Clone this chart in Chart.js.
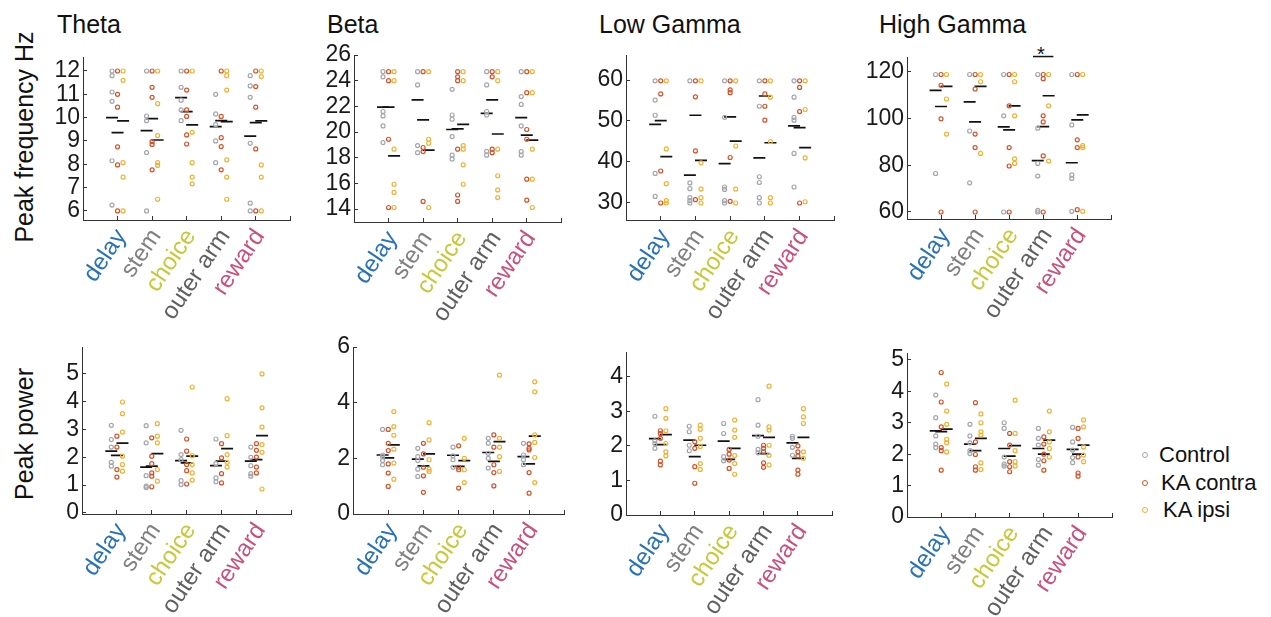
<!DOCTYPE html>
<html>
<head>
<meta charset="utf-8">
<script src="https://cdn.jsdelivr.net/npm/chart.js@4.4.1/dist/chart.umd.min.js"></script>
<style>
  body { margin: 0; background: #fff; width: 1271px; height: 617px; position: relative; overflow: hidden;
         font-family: "Liberation Sans", Arial, sans-serif; }
  canvas { position: absolute; }
  .txt { position: absolute; white-space: nowrap; color: #111; line-height: 1; }
  .title { font-size: 25px; }
  .ytitle { font-size: 25px; transform: translate(-50%, -50%) rotate(-90deg); }
  .leg { font-size: 22px; }
  .dot { position: absolute; width: 4px; height: 4px; border-radius: 50%; border: 1.3px solid; transform: translate(-50%, -50%); }
</style>
</head>
<body>

<div class="txt title" style="left:57px;top:12px">Theta</div>
<div class="txt title" style="left:327px;top:12px">Beta</div>
<div class="txt title" style="left:599px;top:12px">Low Gamma</div>
<div class="txt title" style="left:879px;top:12px">High Gamma</div>
<div class="txt ytitle" style="left:24px;top:137px">Peak frequency Hz</div>
<div class="txt ytitle" style="left:24px;top:434px">Peak power</div>
<div class="txt" style="left:1037px;top:44px;font-size:20px">*</div>

<div class="dot" style="left:1145px;top:455px;border-color:#a4a6ae"></div>
<div class="txt leg" style="left:1159px;top:444px">Control</div>
<div class="dot" style="left:1145px;top:483px;border-color:#d2552a"></div>
<div class="txt leg" style="left:1161px;top:472px">KA contra</div>
<div class="dot" style="left:1145px;top:510px;border-color:#f0b232"></div>
<div class="txt leg" style="left:1163px;top:499px">KA ipsi</div>

<script>
const categories = ['delay', 'stem', 'choice', 'outer arm', 'reward'];
const groups = ['Control', 'KA contra', 'KA ipsi'];

// ---- peak frequency ----
const thetaFreqTicks = [6, 7, 8, 9, 10, 11, 12];
const thetaFreqCtl = [[12, 11.8, 11.1, 10.7, 8.15, 6.25], [12, 10.07, 9.87, 8.5, 6], [12, 11.3, 10.75, 10.33, 9.87], [11.0, 10.16, 9.7, 9.0, 8.07], [11.8, 11.36, 10.87, 8.9, 6.33, 6]];
const thetaFreqKac = [[12, 11.0, 10.45, 8.75, 7.97, 6], [12, 11.3, 10.87, 8.97, 8.85, 7.76], [12, 11.18, 10.33, 10.05, 9.26, 8.87], [12, 10.05, 9.14, 8.76, 7.76], [12, 11.33, 10.45, 8.66, 6]];
const thetaFreqKai = [[12, 11.6, 8.07, 7.45, 6], [12, 10.6, 9.23, 8.07, 7.95, 6.5], [12, 9.37, 8.07, 7.45, 7.16], [12, 11.8, 11.18, 8.19, 7.45, 6.5], [12, 11.76, 7.97, 7.45, 6]];
const thetaFreqMeanCtl = [10.0, 9.44, 10.86, 9.61, 9.21];
const thetaFreqMeanKac = [9.36, 9.96, 10.26, 9.87, 9.79];
const thetaFreqMeanKai = [9.86, 9.04, 9.69, 9.83, 9.86];

const betaFreqTicks = [14, 16, 18, 20, 22, 24, 26];
const betaFreqCtl = [[24.7, 24.3, 21.6, 21.26, 20.48, 19.18], [24.7, 23.67, 18.95, 18.4], [23.33, 21.33, 21.0, 19.65, 18.2, 17.9], [24.7, 23.67, 21.6, 21.33, 18.5, 18.2], [24.7, 22.76, 22.15, 20.48, 18.48, 18.2]];
const betaFreqKac = [[24.7, 24.0, 19.44, 14.13], [24.7, 18.8, 18.48, 14.6], [24.7, 24.3, 24.0, 18.67, 15.1, 14.6], [24.7, 24.3, 18.67, 18.4], [24.7, 23.07, 20.2, 19.44, 16.33, 14.7]];
const betaFreqKai = [[24.7, 24.0, 18.67, 15.94, 15.3, 14.13], [24.7, 19.44, 19.13, 14.13], [24.7, 24.0, 18.95, 18.67, 17.45, 15.94], [24.7, 24.0, 18.67, 16.6, 15.5, 14.9], [24.7, 23.07, 18.67, 16.33, 14.13]];
const betaFreqMeanCtl = [21.95, 22.5, 20.2, 21.45, 21.12];
const betaFreqMeanKac = [21.95, 20.95, 20.25, 22.5, 19.77];
const betaFreqMeanKai = [18.15, 18.6, 20.6, 19.85, 19.38];

const lowGammaFreqTicks = [30, 40, 50, 60];
const lowGammaFreqCtl = [[59.8, 55.1, 51.4, 37.2, 31.6], [59.8, 34.9, 33.5, 31.3, 30.6, 30.0], [59.8, 50.9, 33.9, 33.3, 30.6, 30.0], [59.8, 53.6, 36.4, 35.0, 31.3, 30.0], [59.8, 55.8, 50.9, 50.2, 42.1, 33.9]];
const lowGammaFreqKac = [[59.8, 56.6, 37.8, 30.0], [59.8, 55.9, 42.7, 30.8], [59.8, 57.6, 56.9, 41.1, 30.4], [59.8, 56.6, 53.6, 50.2], [59.8, 58.2, 52.3, 30.0]];
const lowGammaFreqKai = [[59.8, 43.2, 34.7, 30.6, 30.0], [59.8, 39.8, 33.4, 31.3, 30.0], [59.8, 43.9, 33.4, 30.0], [59.8, 55.8, 45.0, 31.3, 30.0], [59.8, 52.8, 41.0, 30.3]];
const lowGammaFreqMeanCtl = [49.2, 36.8, 39.6, 41.0, 48.8];
const lowGammaFreqMeanKac = [50.1, 51.4, 51.0, 56.1, 48.4];
const lowGammaFreqMeanKai = [41.3, 40.4, 45.1, 44.7, 43.5];

const highGammaFreqTicks = [60, 80, 100, 120];
const highGammaFreqCtl = [[118.9, 76.5], [118.9, 94.7, 72.5], [118.9, 101.2, 60], [118.9, 95.9, 80.8, 75.4, 60.7, 60], [118.9, 97.3, 75.9, 74.4, 60.3]];
const highGammaFreqKac = [[118.9, 114.3, 99.9, 60], [118.9, 112.7, 93.4, 87.6, 60], [118.9, 105.5, 87.6, 79.7, 60], [118.9, 117.1, 101.2, 98.6, 84.0, 60], [118.9, 90.9, 87.6, 61.0]];
const highGammaFreqKai = [[118.9, 108.4, 93.4], [118.9, 115.8, 85.1], [118.9, 115.8, 101.2, 82.8, 80.8], [118.9, 105.5, 81.8], [118.9, 88.4, 87.6, 60.3]];
const highGammaFreqMeanCtl = [112.1, 107.2, 96.5, 82.0, 81.1];
const highGammaFreqMeanKac = [105.2, 98.6, 95.2, 96.6, 99.5];
const highGammaFreqMeanKai = [113.8, 113.8, 105.5, 109.8, 101.6];
const highGammaSigCategory = 4;   // outer arm
const highGammaSigLevel = 126.6;

// ---- peak power ----
const thetaPowTicks = [0, 1, 2, 3, 4, 5];
const thetaPowCtl = [[3.15, 2.64, 2.37, 1.82, 1.68], [3.14, 2.52, 1.34, 0.96, 0.91], [2.97, 2.1, 1.92, 1.16, 1.02], [2.66, 1.77, 1.26, 1.12], [2.37, 2.0, 1.7, 1.41, 1.32]];
const thetaPowKac = [[2.76, 2.37, 1.56, 1.29], [2.7, 2.04, 1.77, 1.44, 1.32, 0.94], [2.66, 2.22, 1.74, 1.52, 1.04], [2.49, 1.98, 1.41, 1.08], [2.49, 2.25, 2.01, 1.65, 1.44]];
const thetaPowKai = [[3.99, 3.57, 2.91, 2.04, 1.74, 1.5], [3.21, 2.76, 2.52, 1.56, 1.14], [4.53, 2.06, 1.74, 1.44, 1.18], [4.11, 2.78, 2.1, 1.82, 1.65], [5.0, 3.78, 3.09, 2.46, 2.18, 0.86]];
const thetaPowMeanCtl = [2.22, 1.65, 1.88, 1.7, 1.86];
const thetaPowMeanKac = [2.07, 1.68, 1.8, 1.86, 1.92];
const thetaPowMeanKai = [2.51, 2.13, 2.04, 2.31, 2.78];

const betaPowTicks = [0, 2, 4, 6];
const betaPowCtl = [[3.04, 2.12, 2.06, 1.92, 1.77], [2.36, 2.06, 1.92, 1.61, 1.35], [2.4, 2.09, 1.95, 1.68], [2.72, 2.54, 2.18, 2.0, 1.65], [2.54, 2.12, 1.95, 1.77]];
const betaPowKac = [[3.04, 2.54, 2.28, 1.8, 1.47, 0.99], [2.54, 2.16, 1.68, 1.37, 0.78], [2.45, 1.68, 1.59, 0.93], [2.84, 2.4, 1.77, 1.49, 1.01], [2.52, 2.36, 2.3, 1.49, 0.75]];
const betaPowKai = [[3.68, 3.14, 2.83, 2.33, 1.83, 1.25], [3.28, 2.66, 1.95, 1.61, 1.53], [2.72, 2.0, 1.59, 1.13], [4.99, 2.72, 2.4, 2.06, 1.53], [4.75, 4.39, 2.84, 2.57, 2.03, 1.13]];
const betaPowMeanCtl = [2.12, 1.97, 2.11, 2.21, 2.06];
const betaPowMeanKac = [2.02, 1.73, 1.71, 1.89, 1.8];
const betaPowMeanKai = [2.48, 2.16, 1.92, 2.6, 2.8];

const lowGammaPowTicks = [0, 1, 2, 3, 4];
const lowGammaPowCtl = [[2.86, 2.15, 2.07, 1.93], [2.57, 2.41, 2.02, 1.86], [2.65, 2.36, 1.69, 1.57], [3.34, 2.6, 2.28, 1.9, 1.8], [2.28, 2.22, 1.96, 1.73]];
const lowGammaPowKac = [[2.44, 2.36, 2.22, 1.56, 1.45], [2.12, 1.93, 1.4, 0.92], [1.9, 1.76, 1.59, 1.35], [2.02, 1.93, 1.83, 1.51, 1.38], [2.0, 1.83, 1.71, 1.3, 1.18]];
const lowGammaPowKai = [[3.08, 2.8, 2.44, 2.07, 1.83, 1.71], [2.6, 2.48, 2.22, 1.98, 1.49, 1.32], [2.75, 2.46, 2.25, 1.72, 1.49, 1.18], [3.73, 2.55, 2.46, 2.02, 1.73, 1.45], [3.08, 2.84, 2.65, 1.83, 1.64]];
const lowGammaPowMeanCtl = [2.21, 2.17, 2.14, 2.3, 2.09];
const lowGammaPowMeanKac = [2.04, 1.69, 1.61, 1.78, 1.64];
const lowGammaPowMeanKai = [2.33, 2.02, 1.93, 2.25, 2.25];

const highGammaPowTicks = [0, 1, 2, 3, 4, 5];
const highGammaPowCtl = [[3.88, 3.16, 2.58, 2.32, 2.21], [2.95, 2.58, 2.36, 2.11, 2.02], [3.0, 2.82, 1.91, 1.68, 1.62], [2.82, 2.5, 2.29, 1.83, 1.65], [2.85, 2.39, 2.13, 1.89, 1.73]];
const highGammaPowKac = [[4.6, 3.66, 2.87, 2.21, 2.11, 1.49], [3.64, 2.39, 1.99, 1.6, 1.49], [2.66, 2.29, 1.76, 1.6, 1.44], [2.55, 2.32, 2.0, 1.79, 1.49], [2.82, 2.5, 1.91, 1.4, 1.3]];
const highGammaPowKai = [[4.23, 3.37, 2.95, 2.47, 2.36, 2.07], [3.28, 3.0, 2.71, 2.61, 1.72, 1.51], [3.72, 2.66, 2.11, 1.76, 1.62], [3.37, 2.71, 2.39, 2.18, 1.91], [3.09, 2.87, 2.23, 1.97, 1.76]];
const highGammaPowMeanCtl = [2.74, 2.32, 2.18, 2.18, 2.15];
const highGammaPowMeanKac = [2.72, 2.11, 1.94, 2.0, 2.0];
const highGammaPowMeanKai = [2.8, 2.5, 2.27, 2.45, 2.29];

// ---- styling ----
const catColors = ['#2a72b6', '#808080', '#c6c93a', '#606060', '#c8527e'];
const groupColors = ['#a4a6ae', '#d2552a', '#f0b232'];
const groupOffsets = [-0.16, 0, 0.16];
const FONT = '"Liberation Sans", Arial, sans-serif';
const Y_W = 60, X_H = 110, PAD_T = 25, PAD_R = 6;

function groupPoints(values, off) {
    return values.flatMap((vals, i) => vals.map(v => ({ x: i + 1 + off, y: v })));
}

function meanPoints(means, off) {
    return means.map((m, i) => ({ x: i + 1 + off, y: m }));
}

function makePanel(area, yMin, yMax, yTicks, pts, means, extra) {
    const [left, top, right, bottom] = area;
    const canvas = document.createElement('canvas');
    canvas.width = Y_W + (right - left) + PAD_R;
    canvas.height = PAD_T + (bottom - top) + X_H;
    canvas.style.left = (left - Y_W) + 'px';
    canvas.style.top = (top - PAD_T) + 'px';
    document.body.appendChild(canvas);

    const datasets = [];
    pts.forEach((g, gi) => {
        datasets.push({
            label: groups[gi],
            data: groupPoints(g, groupOffsets[gi]),
            pointRadius: 2,
            borderWidth: 1.2,
            borderColor: groupColors[gi],
            backgroundColor: 'rgba(0,0,0,0)'
        });
    });
    means.forEach((m, gi) => {
        datasets.push({
            label: groups[gi] + ' mean',
            data: meanPoints(m, groupOffsets[gi]),
            pointStyle: 'line',
            pointRadius: 6,
            borderWidth: 1.7,
            borderColor: '#111'
        });
    });
    if (extra) datasets.push(extra);

    new Chart(canvas.getContext('2d'), {
        type: 'scatter',
        data: { datasets },
        options: {
            responsive: false,
            animation: false,
            events: [],
            layout: { padding: { top: PAD_T, right: PAD_R, left: 0, bottom: 0 } },
            plugins: { legend: { display: false }, tooltip: { enabled: false } },
            scales: {
                x: {
                    type: 'linear', min: 0, max: 6,
                    afterBuildTicks: s => { s.ticks = [0, 1, 2, 3, 4, 5, 6].map(v => ({ value: v })); },
                    afterFit: s => { s.height = X_H; s.paddingLeft = 0; s.paddingRight = 0; },
                    border: { display: true, color: '#333', width: 1 },
                    grid: { drawOnChartArea: false, color: '#333', tickLength: -4 },
                    ticks: {
                        autoSkip: false, minRotation: 56, maxRotation: 56, padding: 8, labelOffset: 4,
                        font: { family: FONT, size: 24 },
                        color: c => catColors[c.index - 1] || '#000',
                        callback: v => categories[v - 1] || ''
                    }
                },
                y: {
                    min: yMin, max: yMax,
                    afterBuildTicks: s => { s.ticks = yTicks.map(v => ({ value: v })); },
                    afterFit: s => { s.width = Y_W; s.paddingTop = 0; s.paddingBottom = 0; },
                    border: { display: true, color: '#333', width: 1 },
                    grid: { drawOnChartArea: false, color: '#333', tickLength: -4 },
                    ticks: { autoSkip: false, padding: 7, color: '#1a1a1a', font: { family: FONT, size: 23 } }
                }
            }
        }
    });
}

const sigBar = {
    type: 'line',
    data: [{ x: highGammaSigCategory - 0.3, y: highGammaSigLevel }, { x: highGammaSigCategory + 0.3, y: highGammaSigLevel }],
    borderColor: '#111', borderWidth: 1.5, pointRadius: 0, clip: false
};

makePanel([83, 57, 292, 220], 5.61, 12.6, thetaFreqTicks,
    [thetaFreqCtl, thetaFreqKac, thetaFreqKai], [thetaFreqMeanCtl, thetaFreqMeanKac, thetaFreqMeanKai]);
makePanel([354, 55, 563, 222], 13, 26, betaFreqTicks,
    [betaFreqCtl, betaFreqKac, betaFreqKai], [betaFreqMeanCtl, betaFreqMeanKac, betaFreqMeanKai]);
makePanel([626, 55, 836, 220], 25.85, 66.1, lowGammaFreqTicks,
    [lowGammaFreqCtl, lowGammaFreqKac, lowGammaFreqKai], [lowGammaFreqMeanCtl, lowGammaFreqMeanKac, lowGammaFreqMeanKai]);
makePanel([907, 57, 1113, 219], 57, 126.4, highGammaFreqTicks,
    [highGammaFreqCtl, highGammaFreqKac, highGammaFreqKai], [highGammaFreqMeanCtl, highGammaFreqMeanKac, highGammaFreqMeanKai], sigBar);

makePanel([82, 347, 293, 514], -0.04, 5.97, thetaPowTicks,
    [thetaPowCtl, thetaPowKac, thetaPowKai], [thetaPowMeanCtl, thetaPowMeanKac, thetaPowMeanKai]);
makePanel([353, 347, 566, 514], 0, 6, betaPowTicks,
    [betaPowCtl, betaPowKac, betaPowKai], [betaPowMeanCtl, betaPowMeanKac, betaPowMeanKai]);
makePanel([626, 352, 834, 515], 0, 4.72, lowGammaPowTicks,
    [lowGammaPowCtl, lowGammaPowKac, lowGammaPowKai], [lowGammaPowMeanCtl, lowGammaPowMeanKac, lowGammaPowMeanKai]);
makePanel([907, 353, 1114, 517], 0, 5.22, highGammaPowTicks,
    [highGammaPowCtl, highGammaPowKac, highGammaPowKai], [highGammaPowMeanCtl, highGammaPowMeanKac, highGammaPowMeanKai]);
</script>
</body>
</html>
